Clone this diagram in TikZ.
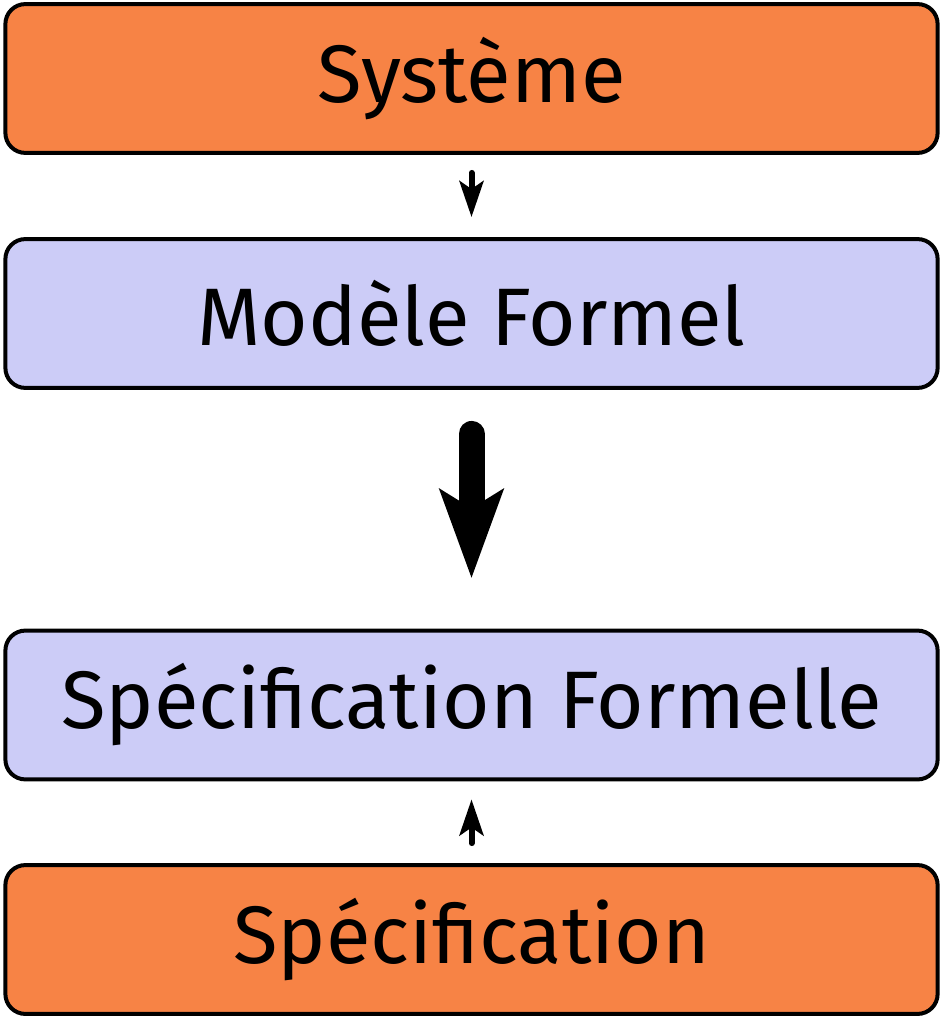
\documentclass[tikz,border=0pt]{standalone}
\usepackage{fontspec}
\setmainfont{Fira Sans}
\usetikzlibrary{arrows.meta}
\definecolor{boxorange}{RGB}{247,131,69}
\definecolor{boxlav}{RGB}{204,204,247}
\begin{document}
\begin{tikzpicture}[x=0.025cm, y=-0.025cm,
    box/.style={rectangle, draw, line width=0.1cm, rounded corners=0.5cm, minimum width=23.3cm, minimum height=3.72cm, align=center, font=\fontsize{58}{66}\selectfont},
    arrow/.style={-{Stealth[length=0.9cm, width=0.6cm, inset=0.2cm]}, line width=0.15cm, line cap=round},
    bigarrow/.style={-{Stealth[length=2.2cm, width=1.55cm, inset=0.45cm]}, line width=0.65cm, line cap=round}
]
    \useasboundingbox (0,0) rectangle (942,1017);
    \node[box, fill=boxorange] (sys) at (471.5,78.5) {Système};
    \node[box, fill=boxlav] (modele) at (471.5,313.5) {Modèle Formel};
    \node[box, fill=boxlav] (specf) at (471.5,705) {Spécification Formelle};
    \node[box, fill=boxorange] (spec) at (471.5,939.5) {Spécification};
    \draw[arrow, shorten <=0.45cm, shorten >=0.5cm] (sys) -- (modele);
    \draw[bigarrow, shorten <=1.1cm, shorten >=1.25cm] (modele) -- (specf);
    \draw[arrow, shorten <=0.5cm, shorten >=0.45cm] (spec) -- (specf);
\end{tikzpicture}
\end{document}
